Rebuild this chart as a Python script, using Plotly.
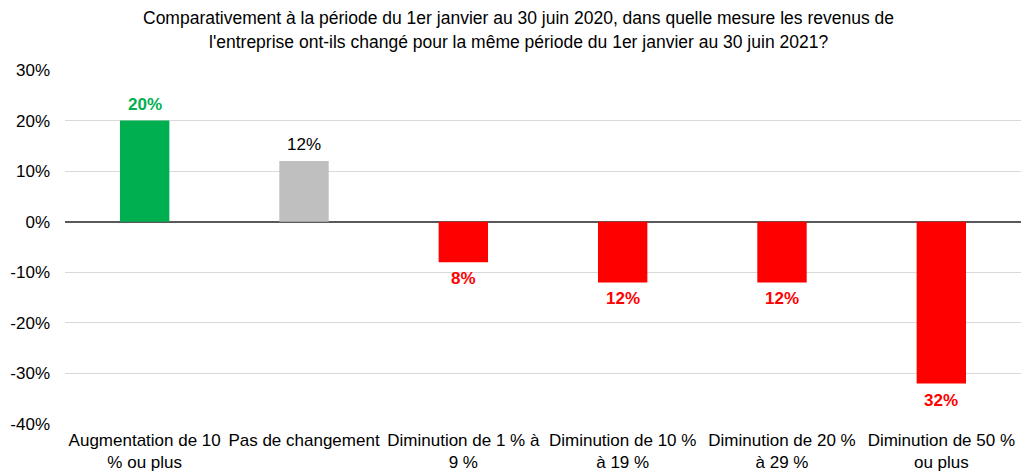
import plotly.graph_objects as go

categories = [
    "Augmentation de 10<br>% ou plus",
    "Pas de changement",
    "Diminution de 1 % à<br>9 %",
    "Diminution de 10 %<br>à 19 %",
    "Diminution de 20 %<br>à 29 %",
    "Diminution de 50 %<br>ou plus",
]
values = [20, 12, -8, -12, -12, -32]
bar_colors = ["#00B050", "#BFBFBF", "#FF0000", "#FF0000", "#FF0000", "#FF0000"]
label_colors = ["#00B050", "#000000", "#FF0000", "#FF0000", "#FF0000", "#FF0000"]
label_bold = [True, False, True, True, True, True]
y_ticks = [30, 20, 10, 0, -10, -20, -30, -40]

title_lines = [
    "Comparativement à la période du 1er janvier au 30 juin 2020, dans quelle mesure les revenus de",
    "l'entreprise ont-ils changé pour la même période du 1er janvier au 30 juin 2021?",
]

FONT = "Liberation Sans, Arial, sans-serif"
FS = 17
W, H = 1022, 467
M = dict(l=57, r=9, t=62, b=51)
plot_h = H - M["t"] - M["b"]

fig = go.Figure()
fig.add_trace(go.Bar(
    x=categories, y=values, marker=dict(color=bar_colors, line=dict(width=0)),
    width=0.31, hoverinfo="skip",
))

annotations = []
for c, v, col, b in zip(categories, values, label_colors, label_bold):
    txt = f"{abs(v)}%"
    if b:
        txt = f"<b>{txt}</b>"
    annotations.append(dict(
        x=c, y=v, xref="x", yref="y", text=txt, showarrow=False,
        yanchor="bottom" if v >= 0 else "top",
        yshift=5 if v >= 0 else -5,
        font=dict(family=FONT, size=FS, color=col),
    ))

# title lines placed above the plot area, centred on the page
for line, above in zip(title_lines, [52, 28]):
    annotations.append(dict(
        x=0.474, y=1 + above / plot_h, xref="paper", yref="paper",
        xanchor="center", yanchor="middle", text=line, showarrow=False,
        font=dict(family=FONT, size=17.5, color="#000000"),
    ))

fig.update_layout(
    width=W, height=H,
    margin=M,
    paper_bgcolor="white", plot_bgcolor="white",
    showlegend=False,
    font=dict(family=FONT, size=FS, color="#000000"),
    annotations=annotations,
)
fig.update_xaxes(showgrid=False, showline=False, ticks="", tickfont=dict(size=FS),
                 tickangle=0, automargin=False, ticklabelstandoff=4)
fig.update_yaxes(range=[-40, 30], tickvals=y_ticks, ticktext=[f"{t}%" for t in y_ticks],
                 showgrid=True, gridcolor="#D9D9D9", gridwidth=1,
                 zeroline=True, zerolinecolor="#595959", zerolinewidth=1.5,
                 showline=False, ticks="", ticklabelstandoff=14, automargin=False,
                 tickfont=dict(size=FS))

fig.write_html("out.html")
